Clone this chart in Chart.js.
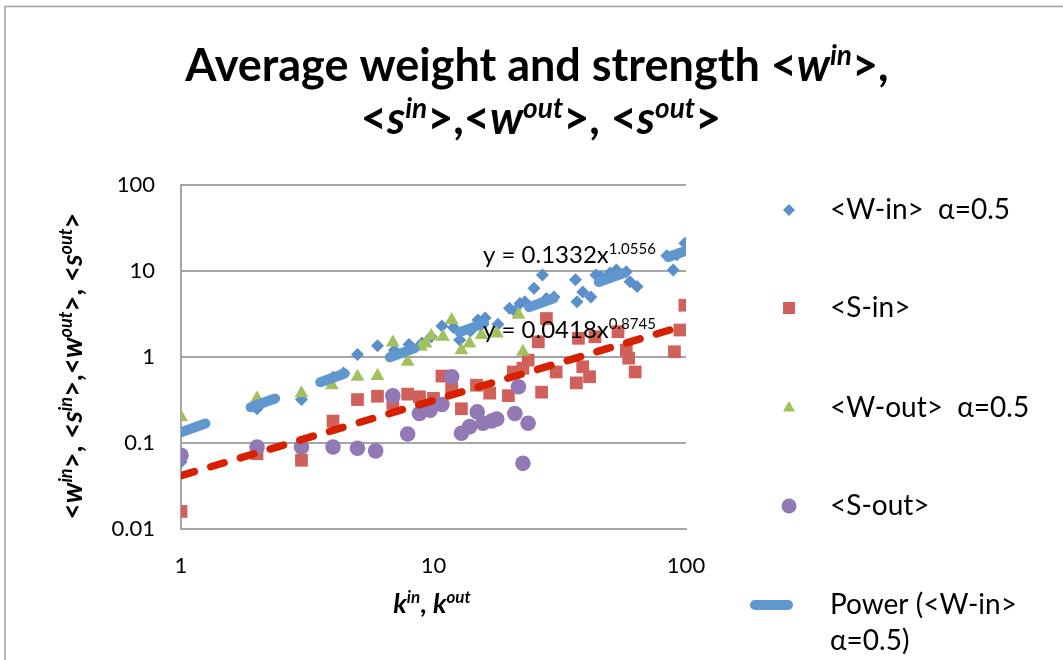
<!DOCTYPE html>
<html>
<head>
<meta charset="utf-8">
<title>Average weight and strength</title>
<script src="https://cdn.jsdelivr.net/npm/chart.js@4.4.0/dist/chart.umd.min.js"></script>
<style>
    html, body { margin: 0; padding: 0; background: #fff; }
    canvas { display: block; }
</style>
</head>
<body>
<canvas id="weightChart" width="1063" height="660"></canvas>
<script>
const chartFont = "Lato, 'Open Sans', sans-serif";
const gridGray = "#a6a6a6";

// <W-in> alpha=0.5
const winK   = [1, 2, 3, 4, 4.4, 5, 6, 7, 8, 9, 9.8, 10.8, 12, 12.7, 14, 15, 16, 18, 20, 21, 22, 23, 25, 27, 28, 30, 36.5, 37, 39, 42, 44, 46, 50, 53, 58, 60, 64, 84, 89, 92, 99];
const winAvg = [0.06, 0.25, 0.32, 0.58, 0.65, 1.07, 1.35, 1.2, 1.4, 1.45, 1.72, 2.3, 2.2, 1.58, 2.0, 2.7, 2.85, 2.4, 3.7, 3.4, 4.2, 4.4, 6.3, 9.0, 4.8, 5.0, 7.9, 4.4, 5.7, 5.0, 9.0, 8.6, 9.5, 10.3, 9.8, 7.5, 6.6, 15, 10.3, 15.5, 21];

// <S-in>
const sinK   = [1, 2, 3, 4, 5, 6, 6.9, 7.9, 8.8, 10, 10.8, 11.8, 12.9, 14.8, 16.7, 19.8, 20.7, 22.6, 23.7, 26, 26.8, 28, 30.6, 36.8, 37.5, 39, 41.5, 43.6, 53.8, 58, 59.3, 62.9, 90, 94.6, 99];
const sinAvg = [0.016, 0.075, 0.063, 0.18, 0.32, 0.35, 0.29, 0.37, 0.345, 0.33, 0.6, 0.44, 0.25, 0.47, 0.38, 0.355, 0.67, 0.74, 0.92, 1.5, 0.39, 2.8, 0.67, 0.5, 1.65, 0.77, 0.59, 1.72, 1.97, 1.2, 0.97, 0.67, 1.15, 2.06, 4.0];

// <W-out> alpha=0.5
const woutK   = [1, 2, 3, 3.96, 5, 6, 6.9, 7.9, 8.9, 9.3, 9.8, 10.9, 11.8, 12.9, 13.9, 15.5, 17.8, 21.7, 22.6];
const woutAvg = [0.2, 0.33, 0.38, 0.47, 0.59, 0.6, 1.47, 0.88, 1.32, 1.44, 1.75, 1.72, 2.7, 1.2, 1.44, 1.8, 1.88, 3.1, 1.15];

// <S-out>
const soutK   = [1, 2, 3, 4, 5, 5.9, 6.9, 7.9, 8.8, 9.7, 10.8, 11.8, 12.9, 13.9, 14.9, 15.7, 17.0, 17.8, 21, 21.7, 22.6, 23.7];
const soutAvg = [0.072, 0.09, 0.09, 0.09, 0.087, 0.081, 0.355, 0.127, 0.22, 0.24, 0.28, 0.59, 0.13, 0.155, 0.23, 0.17, 0.18, 0.19, 0.22, 0.45, 0.058, 0.17];

const xTicks = [1, 10, 100];
const yTicks = [0.01, 0.1, 1, 10, 100];

// power-law trendlines  y = a * k^b
const winFit = { a: 0.1332, b: 1.0556 };
const sinFit = { a: 0.0418, b: 0.8745 };
const fitRange = [1, 100];

const colors = {
    win: "#5a8fcc",
    sin: "#d0605a",
    wout: "#a3c05e",
    sout: "#9378b6",
    winTrend: "#5f97ce",
    sinTrend: "#d62000"
};

function toPoints(ks, vals) {
    return ks.map((k, i) => ({ x: k, y: vals[i] }));
}

function fitLine(fit) {
    return fitRange.map(k => ({ x: k, y: fit.a * Math.pow(k, fit.b) }));
}

// draws a run of text pieces; each piece can be italic and/or superscript
function drawRich(ctx, runs, size, weight, x, y, align, supScale) {
    const ratio = supScale || 0.64;
    const parts = runs.map(r => {
        const s = r.sup ? Math.round(size * ratio) : size;
        const font = `${r.italic ? "italic " : ""}${weight} ${s}px ${chartFont}`;
        ctx.font = font;
        return { text: r.t, font, w: ctx.measureText(r.t).width, dy: r.sup ? -size * 0.36 : 0 };
    });
    const total = parts.reduce((sum, p) => sum + p.w, 0);
    let cx = align === "center" ? x - total / 2 : x;
    ctx.textAlign = "left";
    ctx.textBaseline = "alphabetic";
    parts.forEach(p => {
        ctx.font = p.font;
        ctx.fillText(p.text, cx, y + p.dy);
        cx += p.w;
    });
}

function drawMarker(ctx, style, r, x, y) {
    ctx.beginPath();
    if (style === "rectRot") {
        ctx.moveTo(x, y - r); ctx.lineTo(x + r, y); ctx.lineTo(x, y + r); ctx.lineTo(x - r, y);
    } else if (style === "rect") {
        const h = r * Math.SQRT1_2;
        ctx.rect(x - h, y - h, 2 * h, 2 * h);
    } else if (style === "triangle") {
        ctx.moveTo(x, y - r);
        ctx.lineTo(x + r * Math.sin(Math.PI / 3), y + r / 2);
        ctx.lineTo(x - r * Math.sin(Math.PI / 3), y + r / 2);
    } else {
        ctx.arc(x, y, r, 0, Math.PI * 2);
    }
    ctx.closePath();
    ctx.fill();
}

const titleLines = [
    [{ t: "Average weight and strength <" }, { t: "w", italic: true }, { t: "in", italic: true, sup: true }, { t: ">," }],
    [{ t: "<" }, { t: "s", italic: true }, { t: "in", italic: true, sup: true }, { t: ">,<" },
     { t: "w", italic: true }, { t: "out", italic: true, sup: true }, { t: ">, <" },
     { t: "s", italic: true }, { t: "out", italic: true, sup: true }, { t: ">" }]
];

const yTitle = [
    { t: "<" }, { t: "w", italic: true }, { t: "in", italic: true, sup: true }, { t: ">, <" },
    { t: "s", italic: true }, { t: "in", italic: true, sup: true }, { t: ">,<" },
    { t: "w", italic: true }, { t: "out", italic: true, sup: true }, { t: ">, <" },
    { t: "s", italic: true }, { t: "out", italic: true, sup: true }, { t: ">" }
];

const xTitle = [
    { t: "k", italic: true }, { t: "in", italic: true, sup: true }, { t: ", " },
    { t: "k", italic: true }, { t: "out", italic: true, sup: true }
];

const equations = [
    { fit: winFit, x: 483, y: 263 },
    { fit: sinFit, x: 483, y: 338 }
];

const legendRows = [210, 308, 408, 506, 605, 720];

const frameAndText = {
    id: "frameAndText",
    beforeDraw(chart) {
        const ctx = chart.ctx;
        ctx.save();
        ctx.fillStyle = "#fff";
        ctx.fillRect(0, 0, chart.width, chart.height);
        ctx.strokeStyle = "#a0a0a0";
        ctx.lineWidth = 1.5;
        ctx.strokeRect(5, 6.5, chart.width + 20, chart.height + 20);
        ctx.restore();
    },
    afterDraw(chart) {
        const ctx = chart.ctx;
        ctx.save();
        ctx.fillStyle = "#000";

        // chart title
        drawRich(ctx, titleLines[0], 45, "bold", 537, 81, "center", 0.62);
        drawRich(ctx, titleLines[1], 45, "bold", 541, 134, "center", 0.62);

        // axis titles
        drawRich(ctx, xTitle, 27, "bold", 432, 613, "center");
        ctx.save();
        ctx.translate(82, 366);
        ctx.rotate(-Math.PI / 2);
        drawRich(ctx, yTitle, 28, "bold", 0, 0, "center");
        ctx.restore();

        // trendline equations
        equations.forEach(eq => {
            drawRich(ctx, [
                { t: "y = " + eq.fit.a + "x" },
                { t: String(eq.fit.b), sup: true }
            ], 24, "normal", eq.x, eq.y, "left");
        });

        // legend
        chart.data.datasets.forEach((ds, i) => {
            const y = legendRows[i];
            if (ds.showLine) {
                ctx.save();
                ctx.strokeStyle = ds.borderColor;
                ctx.lineWidth = ds.borderWidth;
                ctx.lineCap = "round";
                ctx.beginPath();
                ctx.moveTo(755, y);
                ctx.lineTo(788, y);
                ctx.stroke();
                ctx.restore();
            } else {
                ctx.fillStyle = ds.backgroundColor;
                drawMarker(ctx, ds.pointStyle, ds.legendRadius, 789, y);
            }
            ctx.fillStyle = "#000";
            ctx.font = `28px ${chartFont}`;
            ctx.textAlign = "left";
            ctx.textBaseline = "middle";
            // wrap long labels onto a second line
            const words = ds.label.split(" ");
            const lines = [];
            let cur = "";
            words.forEach(w => {
                const test = cur ? cur + " " + w : w;
                if (cur && ctx.measureText(test).width > 215) {
                    lines.push(cur);
                    cur = w;
                } else {
                    cur = test;
                }
            });
            lines.push(cur);
            lines.forEach((line, j) => ctx.fillText(line, 830, y + j * 36));
        });
        ctx.restore();
    }
};

const ctx = document.getElementById("weightChart").getContext("2d");
new Chart(ctx, {
    type: "scatter",
    data: {
        datasets: [
            {
                label: "<W-in>  α=0.5",
                data: toPoints(winK, winAvg),
                pointStyle: "rectRot",
                pointRadius: 6.5,
                legendRadius: 6,
                backgroundColor: colors.win,
                pointBorderWidth: 0,
                order: 4
            },
            {
                label: "<S-in>",
                data: toPoints(sinK, sinAvg),
                pointStyle: "rect",
                pointRadius: 9,
                legendRadius: 8.5,
                backgroundColor: colors.sin,
                pointBorderWidth: 0,
                order: 3
            },
            {
                label: "<W-out>  α=0.5",
                data: toPoints(woutK, woutAvg),
                pointStyle: "triangle",
                pointRadius: 8,
                legendRadius: 7,
                backgroundColor: colors.wout,
                pointBorderWidth: 0,
                order: 2
            },
            {
                label: "<S-out>",
                data: toPoints(soutK, soutAvg),
                pointStyle: "circle",
                pointRadius: 7.8,
                legendRadius: 7.5,
                backgroundColor: colors.sout,
                pointBorderWidth: 0,
                order: 1
            },
            {
                label: "Power (<W-in> α=0.5)",
                data: fitLine(winFit),
                showLine: true,
                borderColor: colors.winTrend,
                borderWidth: 10,
                borderDash: [26, 48],
                borderCapStyle: "round",
                pointRadius: 0,
                order: 0
            },
            {
                label: "Power (<S-in>)",
                data: fitLine(sinFit),
                showLine: true,
                borderColor: colors.sinTrend,
                borderWidth: 7.5,
                borderDash: [14, 17],
                borderCapStyle: "round",
                pointRadius: 0,
                order: 0
            }
        ]
    },
    options: {
        responsive: false,
        animation: false,
        events: [],
        layout: {
            padding: { left: 71, top: 185, right: 377, bottom: 71 }
        },
        plugins: {
            legend: { display: false },
            title: { display: false },
            tooltip: { enabled: false }
        },
        scales: {
            x: {
                type: "logarithmic",
                min: 1,
                max: 100,
                afterBuildTicks: scale => { scale.ticks = xTicks.map(v => ({ value: v })); },
                afterFit: scale => { scale.height = 60; },
                ticks: {
                    callback: v => String(v),
                    color: "#000",
                    padding: 24,
                    maxRotation: 0,
                    font: { family: chartFont, size: 22 }
                },
                grid: { display: false, drawTicks: false },
                border: { display: true, color: gridGray, width: 2 }
            },
            y: {
                type: "logarithmic",
                min: 0.01,
                max: 100,
                afterBuildTicks: scale => { scale.ticks = yTicks.map(v => ({ value: v })); },
                afterFit: scale => { scale.width = 110; },
                ticks: {
                    callback: v => String(v),
                    color: "#000",
                    padding: 26,
                    font: { family: chartFont, size: 22 }
                },
                grid: { color: gridGray, lineWidth: 2, drawTicks: false },
                border: { display: true, color: gridGray, width: 2 }
            }
        }
    },
    plugins: [frameAndText]
});
</script>
</body>
</html>
